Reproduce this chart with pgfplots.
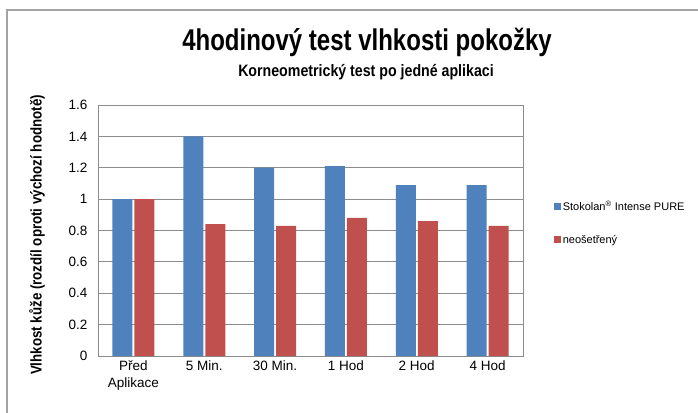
\documentclass[border=0pt]{standalone}
\usepackage{fontspec}
\setmainfont{Liberation Sans}
\newfontfamily\narrowfont[FakeStretch=0.8]{Liberation Sans}
\newfontfamily\semifont[FakeStretch=0.86]{Liberation Sans}
\usepackage{pgfplots}
\pgfplotsset{compat=1.18}
\definecolor{cblue}{HTML}{4F81BD}
\definecolor{cred}{HTML}{C0504D}
\definecolor{cgrid}{HTML}{8C8C8C}
\begin{document}
\begin{tikzpicture}[x=1pt,y=1pt]
\useasboundingbox (0,0) rectangle (698,412);
\draw[cgrid!80, line width=1.2pt] (7,-5) -- (7,402) -- (705,402);
\node[font=\narrowfont\bfseries\fontsize{30}{33}\selectfont] at (367,370) {4hodinový test vlhkosti pokožky};
\node[font=\semifont\bfseries\fontsize{16.5}{18}\selectfont] at (366,340) {Korneometrický test po jedné aplikaci};
\node[rotate=90, font=\semifont\bfseries\fontsize{15.5}{17}\selectfont] at (37,177) {Vlhkost kůže (rozdíl oproti výchozí hodnotě)};
\begin{axis}[
  at={(98pt,56pt)}, anchor=south west, scale only axis,
  width=425pt, height=251pt,
  ybar, bar width=20pt,
  ymin=0, ymax=1.6, xmin=-0.5, xmax=5.5,
  ytick={0,0.2,0.4,0.6,0.8,1,1.2,1.4,1.6},
  yticklabels={0,0.2,0.4,0.6,0.8,1,1.2,1.4,1.6},
  xtick={0,1,2,3,4,5},
  xticklabels={{Před\\Aplikace},{5 Min.},{30 Min.},{1 Hod},{2 Hod},{4 Hod}},
  xticklabel style={align=center, font=\fontsize{13.5}{17}\selectfont, yshift=-1pt},
  yticklabel style={font=\fontsize{13.5}{15}\selectfont, xshift=-7pt},
  major tick length=0pt,
  ymajorgrids, grid style={cgrid, line width=0.8pt},
  axis line style={cgrid, line width=0.8pt},
  axis on top=false,
  legend style={at={(1.072,0.625)}, anchor=north west, draw=none, fill=none,
    font=\fontsize{11}{13}\selectfont, row sep=19pt, inner sep=0pt},
  legend cell align=left,
  legend image code/.code={\fill[#1] (0pt,-3.5pt) rectangle (7pt,3.5pt);},
]
\addplot[fill=cblue, draw=none] coordinates {(0,1.0) (1,1.40) (2,1.20) (3,1.21) (4,1.09) (5,1.09)};
\addplot[fill=cred, draw=none] coordinates {(0,1.0) (1,0.84) (2,0.83) (3,0.88) (4,0.86) (5,0.83)};
\legend{Stokolan\textsuperscript{®} Intense PURE, neošetřený}
\end{axis}
\end{tikzpicture}
\end{document}
